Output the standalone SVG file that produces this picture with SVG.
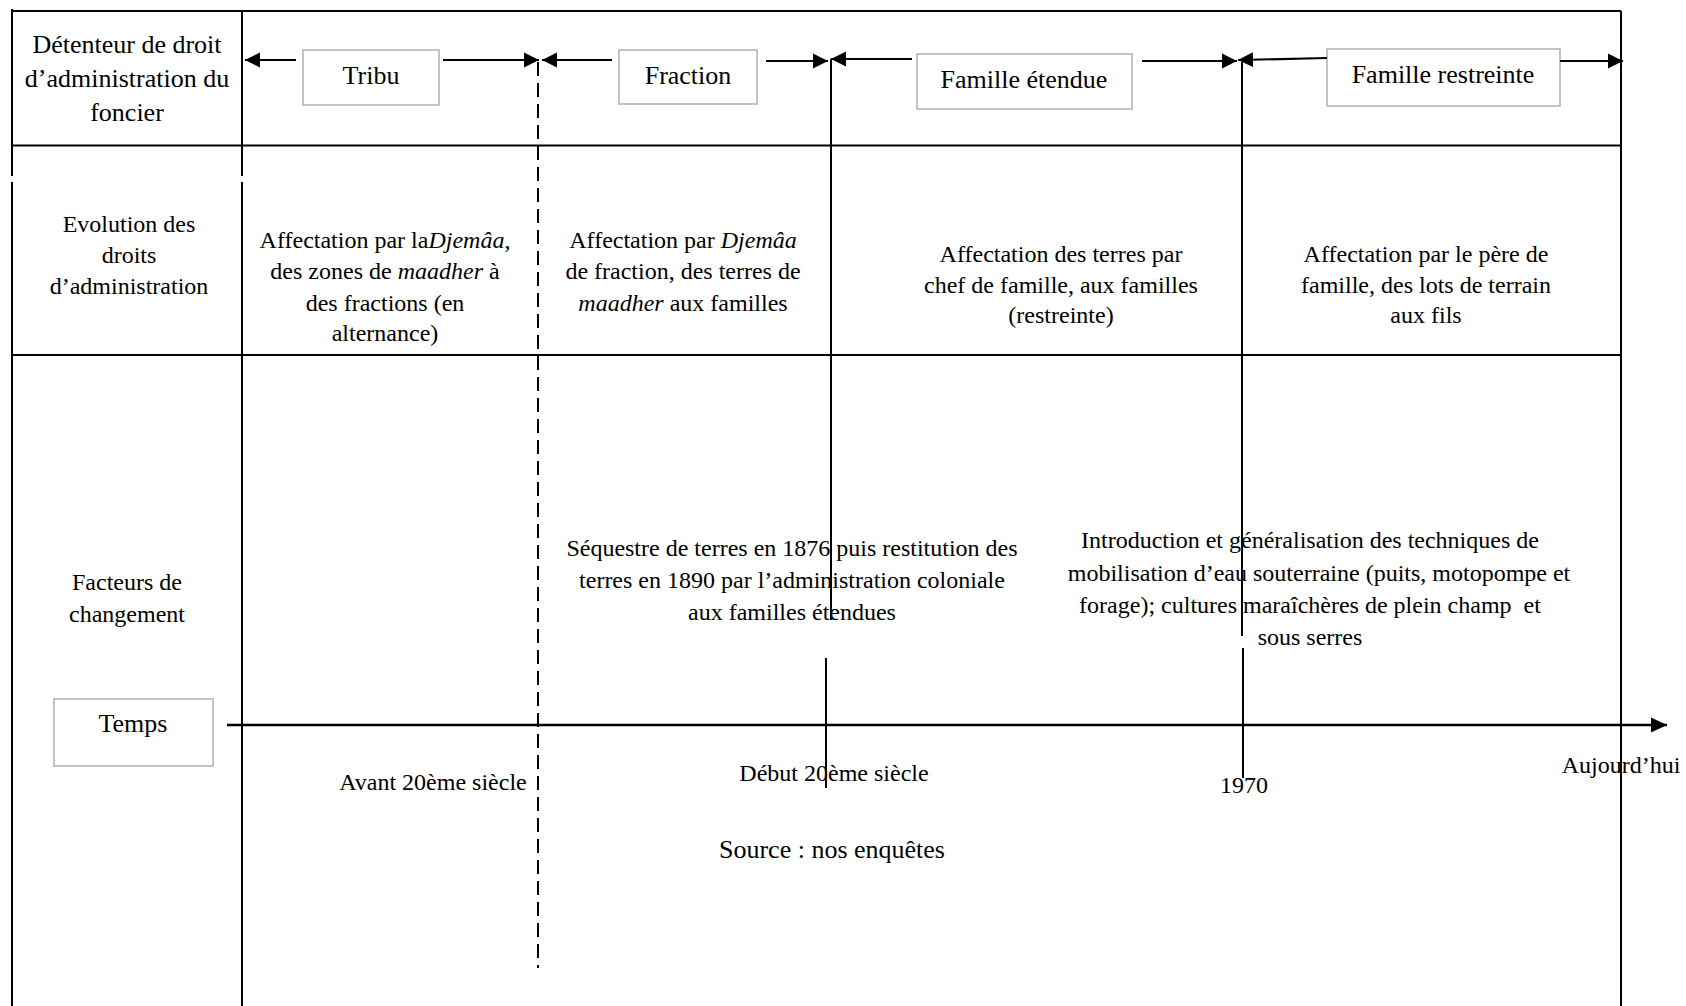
<svg xmlns="http://www.w3.org/2000/svg" width="1686" height="1006" viewBox="0 0 1686 1006">
  <defs>
    <marker id="ah" markerUnits="userSpaceOnUse" markerWidth="16" markerHeight="16" refX="15" refY="8" orient="auto" viewBox="0 0 16 16">
      <path d="M0,0.5 L15,8 L0,15.5 Z" fill="#000"/>
    </marker>
    <marker id="axh" markerUnits="userSpaceOnUse" markerWidth="17" markerHeight="16" refX="16" refY="8" orient="auto" viewBox="0 0 17 16">
      <path d="M0,0.5 L16,8 L0,15.5 Z" fill="#000"/>
    </marker>
  </defs>
  <style>
    text { font-family: "Liberation Serif", "Times New Roman", serif; fill: #000; text-anchor: middle; }
    .t24 { font-size: 24px; }
    .t26 { font-size: 26px; }
    .it { font-style: italic; }
    .grid { stroke: #000; stroke-width: 2; fill: none; }
    .dash { stroke: #000; stroke-width: 2; fill: none; stroke-dasharray: 14 7; }
    .box { fill: #fff; stroke: #c3c3c3; stroke-width: 2; }
    .arr { stroke: #000; stroke-width: 2.2; fill: none; marker-end: url(#ah); }
    .vline { stroke: #000; stroke-width: 2; fill: none; }
    .axis { stroke: #000; stroke-width: 2.5; fill: none; marker-end: url(#axh); }
  </style>

  <rect width="1686" height="1006" fill="#fff"/>

  <!-- table frame and row separators -->
  <g id="table-grid" class="grid">
    <path d="M11,11 H1621"/>
    <path d="M11,145.5 H1621"/>
    <path d="M11,355 H1621"/>
    <path d="M12,9 V176 M12,182 V1006"/>
    <path d="M242,11 V176 M242,182 V1006"/>
    <path d="M1621,11 V1006"/>
  </g>

  <!-- row labels -->
  <g id="label-detenteur" class="t26">
    <text x="127" y="53">Détenteur de droit</text>
    <text x="127" y="87">d’administration du</text>
    <text x="127" y="121">foncier</text>
  </g>
  <g id="label-evolution" class="t24">
    <text x="129" y="232">Evolution des</text>
    <text x="129" y="263">droits</text>
    <text x="129" y="294">d’administration</text>
  </g>
  <g id="label-facteurs" class="t24">
    <text x="127" y="590">Facteurs de</text>
    <text x="127" y="622">changement</text>
  </g>

  <!-- holders of administration rights -->
  <g id="node-tribu">
    <rect class="box" x="303" y="50" width="136" height="55"/>
    <text class="t26" x="371" y="84">Tribu</text>
  </g>
  <g id="node-fraction">
    <rect class="box" x="619" y="50" width="138" height="54"/>
    <text class="t26" x="688" y="84">Fraction</text>
  </g>
  <g id="node-famille-etendue">
    <rect class="box" x="917" y="54" width="215" height="55"/>
    <text class="t26" x="1024" y="88">Famille étendue</text>
  </g>
  <g id="node-famille-restreinte">
    <rect class="box" x="1327" y="49" width="233" height="57"/>
    <text class="t26" x="1443" y="83">Famille restreinte</text>
  </g>

  <!-- evolution of rights, per period -->
  <g id="evol-tribu" class="t24">
    <text x="385" y="248">Affectation par la<tspan class="it">Djemâa</tspan>,</text>
    <text x="385" y="279">des zones de <tspan class="it">maadher</tspan> à</text>
    <text x="385" y="311">des fractions (en</text>
    <text x="385" y="341">alternance)</text>
  </g>
  <g id="evol-fraction" class="t24">
    <text x="683" y="248">Affectation par <tspan class="it">Djemâa</tspan></text>
    <text x="683" y="279">de fraction, des terres de</text>
    <text x="683" y="311"><tspan class="it">maadher</tspan> aux familles</text>
  </g>
  <g id="evol-famille-etendue" class="t24">
    <text x="1061" y="262">Affectation des terres par</text>
    <text x="1061" y="293">chef de famille, aux familles</text>
    <text x="1061" y="323">(restreinte)</text>
  </g>
  <g id="evol-famille-restreinte" class="t24">
    <text x="1426" y="262">Affectation par le père de</text>
    <text x="1426" y="293">famille, des lots de terrain</text>
    <text x="1426" y="323">aux fils</text>
  </g>

  <!-- factors of change -->
  <g id="facteur-sequestre" class="t24">
    <text x="792" y="556">Séquestre de terres en 1876 puis restitution des</text>
    <text x="792" y="588">terres en 1890 par l’administration coloniale</text>
    <text x="792" y="620">aux familles étendues</text>
  </g>
  <g id="facteur-eau" class="t24">
    <text x="1310" y="548">Introduction et généralisation des techniques de</text>
    <text x="1319" y="581">mobilisation d’eau souterraine (puits, motopompe et</text>
    <text x="1310" y="613">forage); cultures maraîchères de plein champ&#160; et</text>
    <text x="1310" y="645">sous serres</text>
  </g>

  <!-- time axis box and labels -->
  <g id="node-temps">
    <rect class="box" x="54" y="699" width="159" height="67"/>
    <text class="t26" x="133" y="732">Temps</text>
  </g>
  <g id="time-labels" class="t24">
    <text x="433" y="790">Avant 20ème siècle</text>
    <text x="834" y="781">Début 20ème siècle</text>
    <text x="1244" y="793">1970</text>
    <text x="1621" y="773">Aujourd’hui</text>
  </g>
  <g id="source">
    <text class="t26" x="832" y="858">Source : nos enquêtes</text>
  </g>

  <!-- connectors: period arrows, period boundaries, time axis -->
  <g id="connectors">
    <path class="arr" d="M296,60 H245"/>
    <path class="arr" d="M443,60 H539"/>
    <path class="arr" d="M612,60 H542"/>
    <path class="arr" d="M766,61 H828"/>
    <path class="arr" d="M912,59 H831"/>
    <path class="arr" d="M1142,61 H1237"/>
    <path class="arr" d="M1327,58 L1238,60"/>
    <path class="arr" d="M1560,61 H1623"/>

    <path class="dash" d="M538,62 V968"/>
    <path class="vline" d="M831,59 V620"/>
    <path class="vline" d="M826,658 V788"/>
    <path class="vline" d="M1242,62 V636"/>
    <path class="vline" d="M1243,648 V778"/>

    <path class="axis" d="M227,725 H1667"/>
  </g>
</svg>
